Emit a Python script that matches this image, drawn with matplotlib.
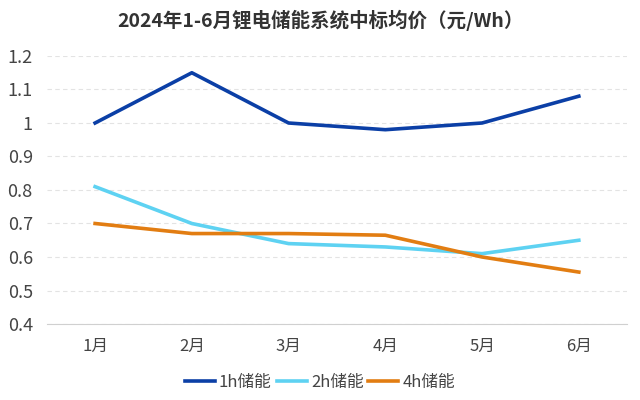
import matplotlib
matplotlib.use("Agg")
import matplotlib.pyplot as plt
from matplotlib.ticker import FuncFormatter

plt.rcParams['font.family'] = ['Noto Sans CJK SC', 'DejaVu Sans']

months = ["1月", "2月", "3月", "4月", "5月", "6月"]
price_1h = [1.00, 1.15, 1.00, 0.98, 1.00, 1.08]
price_2h = [0.81, 0.70, 0.64, 0.63, 0.61, 0.65]
price_4h = [0.70, 0.67, 0.67, 0.665, 0.60, 0.555]


def tick_fmt(x, pos):
    return f'{x:g}'


def main():
    fig = plt.figure(figsize=(6.4, 4.0), dpi=100)
    ax = fig.add_axes([0.073, 0.19, 0.907, 0.67])

    x = range(len(months))
    ax.plot(x, price_1h, color="#0b3fa6", lw=2.6, label="1h储能")
    ax.plot(x, price_2h, color="#5ed2f2", lw=2.6, label="2h储能")
    ax.plot(x, price_4h, color="#e27d12", lw=2.6, label="4h储能")

    ax.set_xlim(-0.5, 5.5)
    ax.set_ylim(0.4, 1.2)
    ax.set_xticks(list(x))
    ax.set_xticklabels(months)
    ax.set_yticks([0.4, 0.5, 0.6, 0.7, 0.8, 0.9, 1.0, 1.1, 1.2])
    ax.yaxis.set_major_formatter(FuncFormatter(tick_fmt))
    ax.tick_params(axis="both", length=0, labelsize=12, labelcolor="#444444")
    ax.tick_params(axis="y", pad=10, labelsize=13)
    ax.tick_params(axis="x", pad=10)

    ax.grid(axis="y", color="#e3e3e3", ls=(0, (4, 3)), lw=0.8)
    ax.set_axisbelow(True)
    for s in ["top", "right", "left"]:
        ax.spines[s].set_visible(False)
    ax.spines["bottom"].set_color("#d0d0d0")

    fig.suptitle("2024年1-6月锂电储能系统中标均价（元/Wh）", x=0.5, y=0.975,
                 fontsize=14, fontweight="bold", color="#333333")

    ax.legend(loc="center", bbox_to_anchor=(0.5, 0.045), bbox_transform=fig.transFigure,
              ncol=3, frameon=False, fontsize=12, handlelength=1.8,
              handletextpad=0.25, columnspacing=0.3, labelcolor="#444444")

    fig.savefig("out.png", dpi=100)


if __name__ == "__main__":
    main()
